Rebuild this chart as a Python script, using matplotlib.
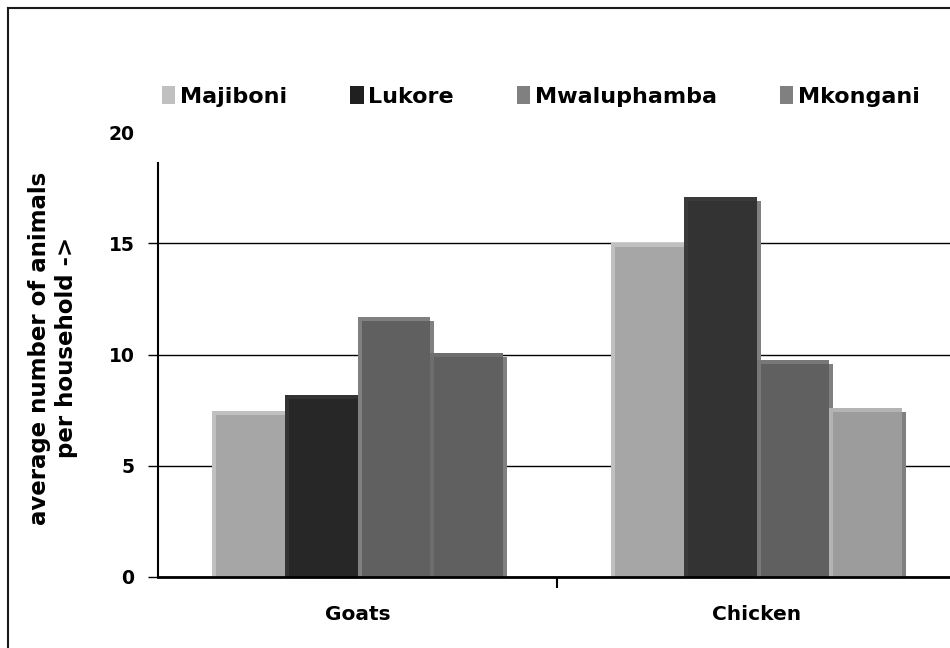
import matplotlib
matplotlib.use("Agg")
import matplotlib.pyplot as plt
import matplotlib.transforms as mtransforms
from matplotlib.patches import Patch
from matplotlib.lines import Line2D

categories = ["Goats", "Chicken"]
villages = ["Majiboni", "Lukore", "Mwaluphamba", "Mkongani"]

majiboni = [7.45, 15.0]
lukore = [8.2, 17.1]
mwaluphamba = [11.7, 9.75]
mkongani = [10.05, 7.6]

# per-point colours: (highlight, fill) for each category
majiboni_col = [("#c0c0c0", "#a6a6a6"), ("#c0c0c0", "#a6a6a6")]
lukore_col = [("#333333", "#272727"), ("#3a3a3a", "#333333")]
mwaluphamba_col = [("#808080", "#606060"), ("#787878", "#606060")]
mkongani_col = [("#6e6e6e", "#606060"), ("#b4b4b4", "#9c9c9c")]
legend_colors = ["#c0c0c0", "#202020", "#808080", "#808080"]

plt.rcParams['font.family'] = ['DejaVu Sans']
plt.rcParams['font.weight'] = 'bold'

fig = plt.figure(figsize=(9.5, 6.48), dpi=100)
ax = fig.add_axes([158 / 950, 71 / 648, 798 / 950, 444.8 / 648])

series = [majiboni, lukore, mwaluphamba, mkongani]
colors = [majiboni_col, lukore_col, mwaluphamba_col, mkongani_col]
width = 0.1825
shift = ax.transData + mtransforms.ScaledTranslation(4 / 100, -4 / 100, fig.dpi_scale_trans)

z = 3
for ci in range(len(categories)):
    for si, vals in enumerate(series):
        x = ci + (si - 1.5) * width
        hi, fill = colors[si][ci]
        sh = ax.bar(x, vals[ci], width, color="#808080", linewidth=0,
                    transform=shift, zorder=z)
        back = ax.bar(x, vals[ci], width, color=hi, linewidth=0, zorder=z + 1)
        inner = ax.bar(x, vals[ci], width, color=fill, linewidth=0,
                       transform=shift, zorder=z + 2)
        inner[0].set_clip_path(back[0])
        z += 3

ax.set_xlim(-0.5, 1.5)
ax.set_ylim(0, 20)
ax.set_yticks([0, 5, 10, 15, 20])
ax.set_xticks([0, 1])
ax.set_xticklabels(categories, fontsize=14.5, fontweight='bold')
ax.set_xticks([0.5], minor=True)
ax.tick_params(axis='x', which='major', length=0, pad=20)
ax.tick_params(axis='x', which='minor', length=8, width=1.5, direction='out')
ax.tick_params(axis='y', length=7, width=1, direction='out', pad=10, labelsize=13.5)
ax.yaxis.get_major_ticks()[-1].tick1line.set_visible(False)

ax.grid(axis='y', color='black', linewidth=1)
ax.yaxis.get_major_ticks()[-1].gridline.set_visible(False)
ax.set_axisbelow(True)

for s in ['top', 'right']:
    ax.spines[s].set_visible(False)
ax.spines['left'].set_bounds(0, 18.6)
ax.spines['left'].set_linewidth(1.5)
ax.spines['bottom'].set_linewidth(2)
ax.spines['bottom'].set_zorder(100)

ax.set_ylabel("average number of animals\nper household ->", fontsize=16.5,
              fontweight='bold', linespacing=1.25)
ax.yaxis.set_label_coords(-0.1, 0.515)

handles = [Patch(facecolor=c, edgecolor='none') for c in legend_colors]
fig.legend(handles, villages, loc='upper left', bbox_to_anchor=(162 / 950, 1 - 86 / 648),
           ncol=4, frameon=False, fontsize=16, handlelength=0.6, handleheight=0.9,
           handletextpad=0.2, columnspacing=2.85, borderpad=0, borderaxespad=0)

# chart frame
fig.add_artist(Line2D([8 / 950, 8 / 950], [0, 1 - 8 / 648], color='#1a1a1a', linewidth=1.5))
fig.add_artist(Line2D([8 / 950, 1], [1 - 8 / 648, 1 - 8 / 648], color='#1a1a1a', linewidth=1.5))

fig.savefig("out.png", dpi=100)
